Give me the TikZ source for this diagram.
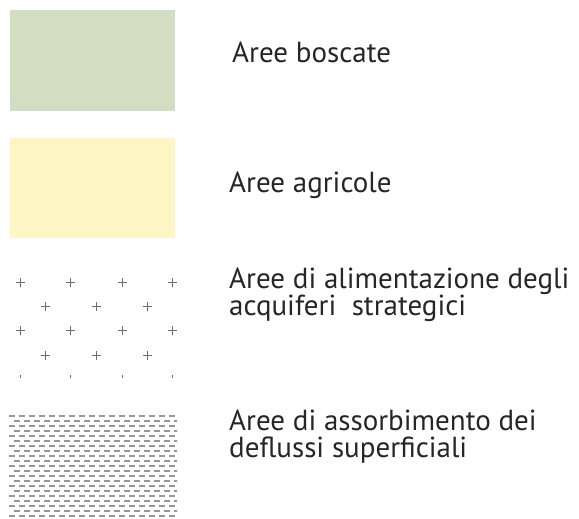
\documentclass[tikz,border=0pt]{standalone}
\usepackage{fontspec}
\setmainfont{PT Sans}
\definecolor{boscoGreen}{RGB}{211,221,193}
\definecolor{agriYellow}{RGB}{255,246,198}
\definecolor{markGray}{RGB}{110,110,110}
\definecolor{hatchGray}{RGB}{150,150,150}
\begin{document}
\begin{tikzpicture}[x=1pt,y=-1pt,
  legendtext/.style={anchor=base west,inner sep=0pt,font=\fontsize{29}{27}\selectfont,align=left,text=black!85},
  plusmark/.style={draw=markGray,line width=0.8pt},
  hatchline/.style={draw=hatchGray,line width=1.2pt}]
\useasboundingbox (0,0) rectangle (579,519);
% swatches
\fill[boscoGreen] (10,10) rectangle (175,111);
\fill[agriYellow] (10,138) rectangle (175,238);
% plus pattern
\foreach \y in {282,330}{
  \foreach \x in {20,70,122,172}{
    \draw[plusmark] (\x-4.5,\y) -- (\x+4.5,\y) (\x,\y-4.5) -- (\x,\y+4.5);
  }
}
\foreach \y in {306,355}{
  \foreach \x in {45,96,147}{
    \draw[plusmark] (\x-4.5,\y) -- (\x+4.5,\y) (\x,\y-4.5) -- (\x,\y+4.5);
  }
}
\foreach \x in {20,70,122,172}{
  \draw[plusmark] (\x,375) -- (\x,377.5);
}
% dashed hatch
\begin{scope}
\clip (9,414) rectangle (177,519);
\foreach \i in {0,...,20}{
  \pgfmathsetmacro{\yy}{416+5*\i}
  \pgfmathsetmacro{\off}{mod(\i,2)*5}
  \foreach \k in {0,...,17}{
    \draw[hatchline] ({9+\off+10*\k},\yy) -- ({15+\off+10*\k},\yy);
  }
}
\end{scope}
% labels
\node[legendtext] (t1) at (232,63) {Aree boscate};
\node[legendtext] (t2) at (229,192) {Aree agricole};
\node[legendtext] (t3) at (229,315) {Aree di alimentazione degli\\acquiferi\ \ strategici};
\node[legendtext] (t4) at (229,457) {Aree di assorbimento dei\\deflussi superficiali};
\end{tikzpicture}
\end{document}
